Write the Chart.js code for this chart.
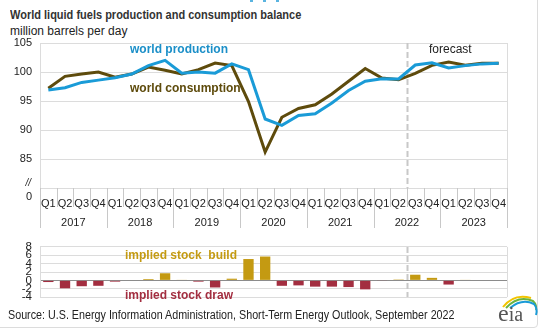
<!DOCTYPE html>
<html>
<head>
<meta charset="utf-8">
<script src="https://cdn.jsdelivr.net/npm/chart.js@4/dist/chart.umd.min.js"></script>
<style>
  body { margin: 0; background: #fff; font-family: 'Liberation Sans', Arial, sans-serif; }
  #wrap { position: relative; width: 543px; height: 332px; overflow: hidden; }
  .abs { position: absolute; }
  #title { left: 10px; top: 8px; font-size: 12.5px; font-weight: bold; color: #333; white-space: nowrap;
           transform: scaleX(0.88); transform-origin: left top; }
  #sub { left: 10px; top: 24px; font-size: 12px; color: #222; white-space: nowrap; }
  #source { left: 8px; top: 308px; font-size: 12px; color: #222; white-space: nowrap;
            transform: scaleX(0.895); transform-origin: left top; }
  #frame { left: -5px; top: -5px; width: 543px; height: 333px; border: 1px solid #dcdcdc; border-radius: 4px; box-sizing: border-box; }
</style>
</head>
<body>
<div id="wrap">
  <div id="frame" class="abs"></div>
  <div class="abs" style="left:250px;top:0;width:3px;height:2px;background:#5ab4e0"></div>
  <div class="abs" style="left:263px;top:0;width:3px;height:2px;background:#5ab4e0"></div>
  <div class="abs" style="left:276px;top:0;width:3px;height:2px;background:#5ab4e0"></div>
  <div id="title" class="abs">World liquid fuels production and consumption balance</div>
  <div id="sub" class="abs">million barrels per day</div>
  <div class="abs" style="left:0;top:0;width:543px;height:235px"><canvas id="main"></canvas></div>
  <div class="abs" style="left:0;top:232px;width:543px;height:80px"><canvas id="stock"></canvas></div>
  <div id="source" class="abs">Source: U.S. Energy Information Administration, Short-Term Energy Outlook, September 2022</div>
  <svg class="abs" style="left:494px;top:292px" width="46" height="36" viewBox="0 0 46 36">
    <path d="M9 15 Q20 1 37 6" stroke="#f2c400" stroke-width="2" fill="none"/>
    <path d="M12 16 Q24 3 39 9 Q43 13 42 18" stroke="#6cb33e" stroke-width="2" fill="none"/>
    <path d="M16 16 Q28 6 40 12 Q44 17 42 23" stroke="#1a9bd7" stroke-width="2" fill="none"/>
    <text x="4" y="29" font-family="'Liberation Serif', serif" fill="#555"><tspan font-size="24">e</tspan><tspan font-size="20">ia</tspan></text>
  </svg>
</div>
<script>
const quarters = ['Q1','Q2','Q3','Q4','Q1','Q2','Q3','Q4','Q1','Q2','Q3','Q4','Q1','Q2','Q3','Q4',
                  'Q1','Q2','Q3','Q4','Q1','Q2','Q3','Q4','Q1','Q2','Q3','Q4'];
const years = ['2017','2018','2019','2020','2021','2022','2023'];

// million barrels per day
const production = [96.9, 97.3, 98.2, 98.6, 99.0, 99.65, 101.1, 102.0,
                    99.8, 100.0, 99.8, 101.4, 100.4, 91.9, 90.8, 92.5,
                    92.8, 94.65, 96.8, 98.4, 98.85, 98.8, 101.2, 101.6,
                    100.7, 101.1, 101.4, 101.5];
const consumption = [97.2, 99.25, 99.65, 100.0, 99.1, 99.65, 100.85, 100.3,
                     99.65, 100.4, 101.55, 101.1, 94.9, 86.2, 92.2, 93.7,
                     94.35, 96.2, 98.4, 100.6, 98.95, 98.65, 99.75, 101.15,
                     101.7, 101.15, 101.5, 101.5];
const stockChange = [-0.4, -1.9, -1.4, -1.3, -0.3, 0.0, 0.3, 1.7,
                     0.1, -0.3, -1.7, 0.4, 5.1, 5.7, -1.3, -1.2,
                     -1.5, -1.5, -1.6, -2.15, -0.1, 0.2, 1.35, 0.6,
                     -1.0, 0.1, 0.0, 0.0];
const forecastStart = 22; // index of 2022 Q3

const FONT = "'Liberation Sans', Arial, sans-serif";
const BLUE = '#1a9bd7';
const BROWN = '#5e4b0c';
const GOLD = '#c49a12';
const RED = '#a32e40';
const GRID = '#dcdcdc';

Chart.defaults.font.family = FONT;
Chart.defaults.color = '#222';
Chart.defaults.animation = false;

function forecastLine(ctx, area, n) {
  const w = (area.right - area.left) / n;
  const x = Math.round(area.left + forecastStart * w) + 0.5;
  ctx.save();
  ctx.strokeStyle = '#c8c8c8';
  ctx.lineWidth = 2;
  ctx.setLineDash([6, 3]);
  ctx.beginPath();
  ctx.moveTo(x, area.top);
  ctx.lineTo(x, area.bottom);
  ctx.stroke();
  ctx.restore();
}

function rightBorder(ctx, a) {
  ctx.save();
  ctx.strokeStyle = GRID;
  ctx.lineWidth = 1;
  ctx.beginPath();
  ctx.moveTo(Math.round(a.right) + 0.5, a.top);
  ctx.lineTo(Math.round(a.right) + 0.5, a.bottom);
  ctx.stroke();
  ctx.restore();
}

const mainDecor = {
  id: 'mainDecor',
  beforeDatasetsDraw(chart) {
    const { ctx, chartArea: a } = chart;
    forecastLine(ctx, a, quarters.length);
    rightBorder(ctx, a);
  },
  afterDraw(chart) {
    const { ctx, chartArea: a } = chart;
    const n = quarters.length;
    const w = (a.right - a.left) / n;
    ctx.save();
    // category separators
    ctx.strokeStyle = '#c8c8c8';
    ctx.lineWidth = 1;
    for (let i = 0; i <= n; i++) {
      const x = Math.round(a.left + i * w) + 0.5;
      ctx.beginPath();
      ctx.moveTo(x, a.bottom);
      ctx.lineTo(x, i % 4 === 0 ? a.bottom + 40 : a.bottom + 19);
      ctx.stroke();
    }
    ctx.fillStyle = '#222';
    ctx.font = '11px ' + FONT;
    ctx.textAlign = 'center';
    ctx.textBaseline = 'middle';
    years.forEach((y, k) => ctx.fillText(y, a.left + (k * 4 + 2) * w, a.bottom + 35));
    // broken axis marks
    ctx.textAlign = 'right';
    ctx.font = '11px ' + FONT;
    ctx.fillText('0', 32, a.bottom + 9);
    ctx.font = 'italic 10px ' + FONT;
    ctx.fillText('//', 31, a.bottom - 5);
    // annotations
    ctx.textAlign = 'left';
    ctx.font = 'bold 12px ' + FONT;
    ctx.fillStyle = '#1b8fc8';
    ctx.fillText('world production', 130, 50);
    ctx.fillStyle = BROWN;
    ctx.fillText('world consumption', 130, 89);
    ctx.font = '12px ' + FONT;
    ctx.fillStyle = '#222';
    ctx.fillText('forecast', 429, 50);
    ctx.restore();
  }
};

new Chart(document.getElementById('main'), {
  type: 'line',
  data: {
    labels: quarters,
    datasets: [
      { data: production, borderColor: BLUE, borderWidth: 3, pointRadius: 0, tension: 0 },
      { data: consumption, borderColor: BROWN, borderWidth: 3, pointRadius: 0, tension: 0 },
    ],
  },
  options: {
    responsive: true,
    maintainAspectRatio: false,
    layout: { padding: { top: 43, right: 36, left: 0, bottom: 0 } },
    plugins: { legend: { display: false }, tooltip: { enabled: false } },
    scales: {
      x: {
        offset: true,
        grid: { display: false },
        border: { display: false },
        ticks: { font: { size: 11 }, color: '#222', autoSkip: false, maxRotation: 0, padding: 1 },
        afterFit(s) { s.height = 47; },
      },
      y: {
        min: 80, max: 105,
        grid: { color: GRID, drawTicks: false },
        border: { color: GRID },
        ticks: { stepSize: 5, font: { size: 11 }, color: '#222', padding: 8,
                 callback: v => (v === 80 ? '' : v) },
        afterFit(s) { s.width = 40; },
      },
    },
  },
  plugins: [mainDecor],
});

const stockDecor = {
  id: 'stockDecor',
  beforeDatasetsDraw(chart) {
    const { ctx, chartArea: a } = chart;
    forecastLine(ctx, a, quarters.length);
    rightBorder(ctx, a);
  },
  afterDraw(chart) {
    const { ctx } = chart;
    ctx.save();
    ctx.font = 'bold 12px ' + FONT;
    ctx.textBaseline = 'middle';
    ctx.fillStyle = GOLD;
    ctx.fillText('implied stock  build', 125, 24);
    ctx.fillStyle = RED;
    ctx.fillText('implied stock draw', 125, 64);
    ctx.restore();
  }
};

new Chart(document.getElementById('stock'), {
  type: 'bar',
  data: {
    labels: quarters,
    datasets: [{
      data: stockChange,
      backgroundColor: stockChange.map(v => (v >= 0 ? GOLD : RED)),
      categoryPercentage: 1,
      barPercentage: 0.62,
    }],
  },
  options: {
    responsive: true,
    maintainAspectRatio: false,
    layout: { padding: { top: 8, right: 36, left: 0, bottom: 0 } },
    plugins: { legend: { display: false }, tooltip: { enabled: false } },
    scales: {
      x: {
        grid: { display: false },
        border: { display: false },
        ticks: { display: false },
        afterFit(s) { s.height = 9; },
      },
      y: {
        min: -4, max: 8,
        grid: { color: c => (c.tick.value === 0 ? '#8c8c8c' : GRID), drawTicks: false },
        border: { color: GRID },
        ticks: { stepSize: 2, autoSkip: false, font: { size: 11.5 }, color: '#222', padding: 8 },
        afterFit(s) { s.width = 40; },
      },
    },
  },
  plugins: [stockDecor],
});
</script>
</body>
</html>
